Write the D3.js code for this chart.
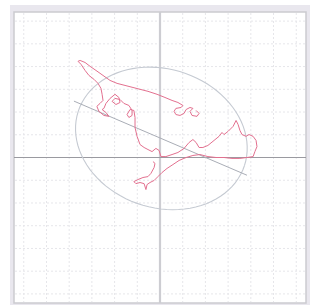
<!DOCTYPE html>
<html>
<head>
<meta charset="utf-8">
<script src="https://cdn.jsdelivr.net/npm/d3@7"></script>
<style>
  body { margin: 0; background: #fff; }
  svg { display: block; }
</style>
</head>
<body>
<svg id="chart" width="310" height="305"></svg>
<script>
// grid ticks (data units)
const gridTicks = [-6, -5, -4, -3, -2, -1, 0, 1, 2, 3, 4, 5, 6];

// random walk trace
const walkX = [1.59, 1.72, 1.63, 1.41, 1.32, 1.45, 1.32, 1.15, 1.06, 0.88, 0.70, 0.62, 0.70, 0.93,
  1.01, 0.79, 0.53, 0.22, -0.13, -0.53, -0.88, -1.19, -1.54, -1.89, -2.20, -2.51, -2.82, -3.08,
  -3.30, -3.52, -3.61, -3.48, -3.30, -3.13, -2.91, -2.73, -2.60, -2.55, -2.51, -2.64, -2.78,
  -2.69, -2.47, -2.25, -2.38, -2.55, -2.47, -2.38, -2.20, -1.98, -1.81, -1.76, -1.94, -2.11,
  -1.98, -1.76, -1.59, -1.37, -1.23, -1.23, -1.37, -1.45, -1.32, -1.15, -1.10, -1.10, -1.01,
  -0.88, -0.70, -0.53, -0.35, -0.18, -0.04, 0.04, 0.26, 0.53, 0.79, 1.06, 1.28, 1.45, 1.59,
  1.72, 1.89, 2.11, 2.38, 2.60, 2.73, 2.82, 3.00, 3.22, 3.35, 3.44, 3.52, 3.61, 3.79, 3.92,
  4.10, 4.23, 4.27, 4.18, 4.10, 3.83, 3.52, 3.17, 2.82, 2.47, 2.11, 1.76, 1.45, 1.15, 0.84,
  0.57, 0.31, 0.09, -0.09, -0.26, -0.44, -0.57, -0.62, -0.70, -0.88, -1.06, -1.15, -0.97,
  -0.75, -0.53, -0.40, -0.26, -0.22, -0.31];
const walkY = [2.07, 1.94, 1.81, 1.85, 2.03, 2.16, 2.20, 2.11, 1.94, 1.85, 1.89, 2.03, 2.16, 2.20,
  2.29, 2.42, 2.51, 2.64, 2.78, 2.91, 3.00, 3.08, 3.17, 3.26, 3.39, 3.61, 3.83, 4.01,
  4.18, 4.27, 4.23, 4.10, 3.83, 3.61, 3.44, 3.26, 3.04, 2.78, 2.51, 2.38, 2.25,
  2.03, 1.85, 1.81, 1.98, 2.11, 2.16, 2.38, 2.60, 2.78, 2.64, 2.42, 2.33, 2.47,
  2.60, 2.55, 2.38, 2.29, 2.07, 1.85, 1.76, 1.89, 2.11, 2.07, 1.76, 1.32, 0.93,
  0.57, 0.44, 0.35, 0.26, 0.40, 0.31, 0.04, 0.04, 0.13, 0.22, 0.40, 0.66, 0.79, 0.66,
  0.44, 0.44, 0.53, 0.75, 0.93, 1.10, 1.01, 1.15, 1.37, 1.63, 1.45, 1.19, 1.01, 0.93, 1.01,
  0.93, 0.75, 0.48, 0.26, 0.04, 0, -0.04, -0.04, 0, 0, 0.04, 0.13, 0.09, 0, -0.13,
  -0.31, -0.48, -0.66, -0.84, -1.01, -1.10, -1.19, -1.41, -1.15, -1.10, -1.15, -1.06, -0.97,
  -0.88, -0.84, -0.70, -0.44, -0.26, -0.18];

// regression line end points
const fitX = [-3.79, 3.83];
const fitY = [2.48, -0.78];

// covariance ellipse: centre, radii, tilt (degrees)
const ellipseCenter = [0.06, 0.84];
const ellipseRadii = [3.85, 3.05];
const ellipseTilt = -18;

const svg = d3.select("#chart");
const plot = {left: 14, top: 12, right: 306, bottom: 303};

const x = d3.scaleLinear().domain([-6.43, 6.43]).range([plot.left, plot.right]);
const y = d3.scaleLinear().domain([-6.4, 6.4]).range([plot.bottom, plot.top]);

// outer panel
svg.append("rect")
    .attr("x", 10).attr("y", 5)
    .attr("width", 300).attr("height", 300)
    .attr("fill", "#e9e7ee");

svg.append("rect")
    .attr("x", plot.left).attr("y", plot.top)
    .attr("width", plot.right - plot.left)
    .attr("height", plot.bottom - plot.top)
    .attr("fill", "#fff")
    .attr("stroke", "#cbcbd0")
    .attr("stroke-width", 1.5);

// grid
const grid = svg.append("g").attr("class", "grid");
grid.selectAll(".gx")
    .data(gridTicks.filter(d => d !== 0))
    .enter().append("line")
    .attr("x1", d => x(d)).attr("x2", d => x(d))
    .attr("y1", plot.top + 1).attr("y2", plot.bottom - 1)
    .attr("stroke", "#e6e6ea")
    .attr("stroke-dasharray", "2,2");
grid.selectAll(".gy")
    .data(gridTicks.filter(d => d !== 0))
    .enter().append("line")
    .attr("y1", d => y(d)).attr("y2", d => y(d))
    .attr("x1", plot.left + 1).attr("x2", plot.right - 1)
    .attr("stroke", "#e6e6ea")
    .attr("stroke-dasharray", "2,2");

// zero axes
svg.append("line")
    .attr("x1", x(0)).attr("x2", x(0))
    .attr("y1", plot.top).attr("y2", plot.bottom)
    .attr("stroke", "#cdcdd2")
    .attr("stroke-width", 2.2);
svg.append("line")
    .attr("y1", y(0)).attr("y2", y(0))
    .attr("x1", plot.left).attr("x2", plot.right)
    .attr("stroke", "#9a9aa0")
    .attr("stroke-width", 1.2);

// ellipse
const t = ellipseTilt * Math.PI / 180;
const ellipsePts = d3.range(0, 361, 4).map(a => {
    const r = a * Math.PI / 180;
    const ex = ellipseRadii[0] * Math.cos(r), ey = ellipseRadii[1] * Math.sin(r);
    return [ellipseCenter[0] + ex * Math.cos(t) - ey * Math.sin(t),
            ellipseCenter[1] + ex * Math.sin(t) + ey * Math.cos(t)];
});
const line = d3.line().x(d => x(d[0])).y(d => y(d[1]));

svg.append("path")
    .attr("d", line(ellipsePts))
    .attr("fill", "none")
    .attr("stroke", "#c5cad2")
    .attr("stroke-width", 1.1);

// regression line
svg.append("path")
    .attr("d", line(fitX.map((v, i) => [v, fitY[i]])))
    .attr("fill", "none")
    .attr("stroke", "#a9adb6")
    .attr("stroke-width", 1);

// trace
svg.append("path")
    .attr("d", line(walkX.map((v, i) => [v, walkY[i]])))
    .attr("fill", "none")
    .attr("stroke", "#e3708f")
    .attr("stroke-width", 1)
    .attr("stroke-linejoin", "round");
</script>
</body>
</html>
